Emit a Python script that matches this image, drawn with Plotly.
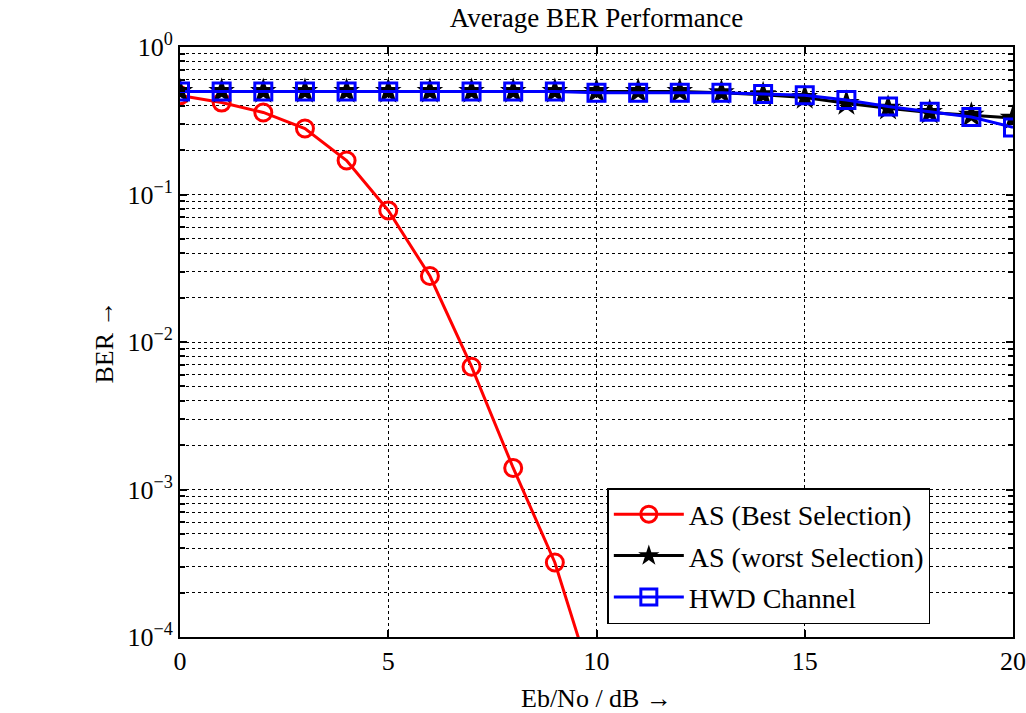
import plotly.graph_objects as go

snr_db = list(range(0, 21))
ber_best = [0.47, 0.42, 0.36, 0.28, 0.17, 0.078, 0.028, 0.0068, 0.0014, 0.00032, 0.00004]
ber_worst = [0.5, 0.5, 0.5, 0.5, 0.5, 0.5, 0.5, 0.5, 0.5, 0.5, 0.5, 0.5, 0.5, 0.49,
             0.475, 0.455, 0.415, 0.385, 0.36, 0.345, 0.33]
ber_hwd = [0.5, 0.5, 0.5, 0.5, 0.5, 0.5, 0.5, 0.5, 0.5, 0.5, 0.49, 0.49, 0.49, 0.49,
           0.48, 0.47, 0.437, 0.395, 0.364, 0.335, 0.285]

y_tickvals = [1e-4, 1e-3, 1e-2, 1e-1, 1]
y_ticktext = ["10<sup>−4</sup>", "10<sup>−3</sup>", "10<sup>−2</sup>", "10<sup>−1</sup>", "10<sup>0</sup>"]
x_tickvals = [0, 5, 10, 15, 20]

font = "Liberation Serif, Times New Roman, serif"

fig = go.Figure()
fig.add_trace(go.Scatter(
    x=snr_db[:len(ber_best)], y=ber_best, name="AS (Best Selection)", legendgroup="a",
    mode="lines+markers", line=dict(color="#ff0000", width=3),
    marker=dict(symbol="circle-open", size=17, color="#ff0000", line=dict(width=3))))
fig.add_trace(go.Scatter(
    x=snr_db, y=ber_worst, name="AS (worst Selection)", legendgroup="b",
    mode="lines+markers", line=dict(color="black", width=3),
    marker=dict(symbol="star", size=20, color="black")))
fig.add_trace(go.Scatter(
    x=snr_db, y=ber_hwd, name="HWD Channel", legendgroup="c",
    mode="lines+markers", line=dict(color="#0000ff", width=3),
    marker=dict(symbol="square-open", size=17, color="#0000ff", line=dict(width=3))))

axis_common = dict(
    showline=True, linecolor="black", linewidth=2, mirror="allticks",
    ticks="inside", tickcolor="black", tickwidth=2, ticklen=7,
    showgrid=True, gridcolor="black", gridwidth=1, griddash="dot",
    zeroline=False, automargin=False,
    tickfont=dict(family=font, size=26, color="black"),
)

fig.update_xaxes(
    range=[0, 20], tickvals=x_tickvals,
    title=dict(text="Eb/No / dB →", font=dict(family=font, size=26, color="black"), standoff=22),
    **axis_common)
fig.update_yaxes(
    type="log", range=[-4, 0], tickvals=y_tickvals, ticktext=y_ticktext,
    title=dict(text="BER →", font=dict(family=font, size=26, color="black"), standoff=6),
    minor=dict(ticks="inside", ticklen=5, tickcolor="black", tickwidth=1.5,
               showgrid=True, gridcolor="black", gridwidth=1, griddash="dot",
               dtick="D1"),
    **axis_common)

fig.update_layout(
    width=1026, height=713,
    margin=dict(l=180, r=13, t=47, b=76),
    paper_bgcolor="white", plot_bgcolor="white",
    title=dict(text="Average BER Performance", x=0.5, xref="paper", xanchor="center",
               y=0.975, yanchor="middle",
               font=dict(family=font, size=27, color="black")),
    legend=dict(x=0.513, y=0.022, xanchor="left", yanchor="bottom",
                bgcolor="white", bordercolor="black", borderwidth=1.5,
                font=dict(family=font, size=28, color="black"),
                itemwidth=70, tracegroupgap=2),
    showlegend=True,
)

fig.write_html("out.html", config={"displayModeBar": False},
               post_script="document.body.style.margin='0';document.body.style.overflow='hidden';")
